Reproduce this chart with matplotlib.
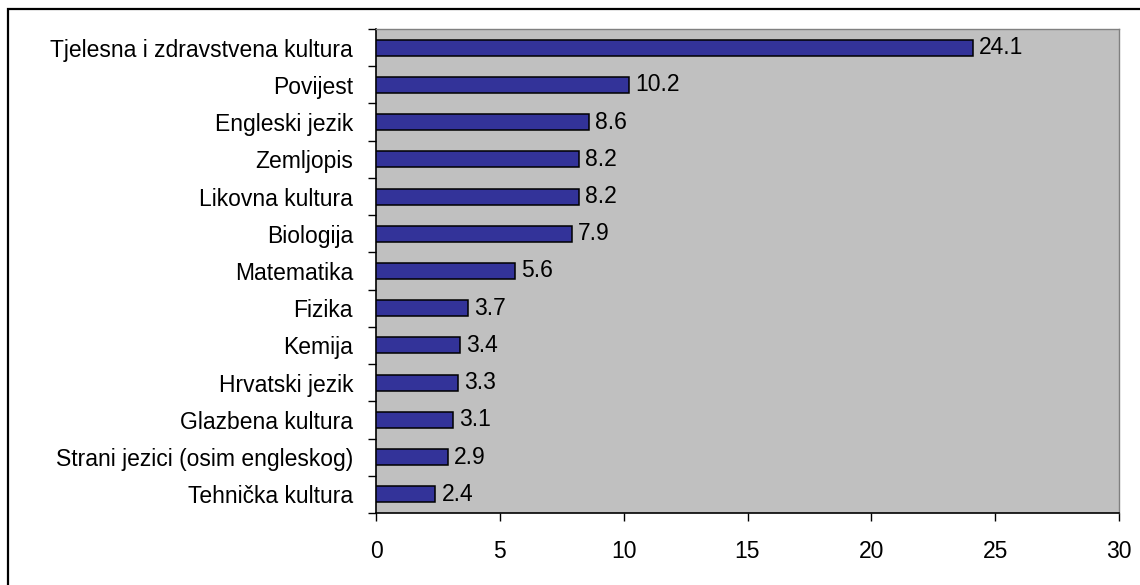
import matplotlib
matplotlib.use("Agg")
import matplotlib.pyplot as plt
from matplotlib.patches import Rectangle
import numpy as np

subjects = [
    "Tjelesna i zdravstvena kultura",
    "Povijest",
    "Engleski jezik",
    "Zemljopis",
    "Likovna kultura",
    "Biologija",
    "Matematika",
    "Fizika",
    "Kemija",
    "Hrvatski jezik",
    "Glazbena kultura",
    "Strani jezici (osim engleskog)",
    "Tehnička kultura",
]
values = [24.1, 10.2, 8.6, 8.2, 8.2, 7.9, 5.6, 3.7, 3.4, 3.3, 3.1, 2.9, 2.4]
x_ticks = [0, 5, 10, 15, 20, 25, 30]

plt.rcParams["font.family"] = ["Liberation Sans", "DejaVu Sans"]
FS = 16.5

W, H = 1140, 585
fig = plt.figure(figsize=(W / 100, H / 100), dpi=100)
fig.patch.set_facecolor("white")

# outer frame of the chart
fig.add_artist(Rectangle((8 / W, -0.1), 1.2, 1 - 9 / H + 0.1,
                         transform=fig.transFigure, fill=False,
                         edgecolor="black", linewidth=1.6))

ax = fig.add_axes([376 / W, 1 - 513 / H, (1119 - 376) / W, (513 - 29) / H])
ax.set_facecolor("#C0C0C0")

n = len(subjects)
ypos = np.arange(n)
ax.barh(ypos, values, height=0.43, color="#333399",
        edgecolor="black", linewidth=1.1, zorder=3)

for y, v in zip(ypos, values):
    ax.annotate(f"{v:.1f}", xy=(v, y), xytext=(4.5, 0),
                textcoords="offset points", va="center", ha="left",
                fontsize=FS, color="black", zorder=4)

ax.set_xlim(0, 30)
ax.set_ylim(n - 0.5, -0.5)
ax.set_xticks(x_ticks)
ax.set_xticklabels([str(t) for t in x_ticks], fontsize=FS)

# category labels centred on bars, ticks on band boundaries
ax.set_yticks(ypos)
ax.set_yticklabels(subjects, fontsize=FS)
ax.tick_params(axis="y", which="major", length=0, pad=16.5)
ax.set_yticks(np.arange(n + 1) - 0.5, minor=True)
ax.tick_params(axis="y", which="minor", length=6, width=1.0,
               direction="out", color="black")
ax.tick_params(axis="x", which="major", length=6, width=1.0,
               direction="out", pad=13.5, color="black")

for side in ("left", "bottom"):
    ax.spines[side].set_color("black")
    ax.spines[side].set_linewidth(1.2)
for side in ("top", "right"):
    ax.spines[side].set_color("#808080")
    ax.spines[side].set_linewidth(1.0)

fig.savefig("out.png", dpi=100)
